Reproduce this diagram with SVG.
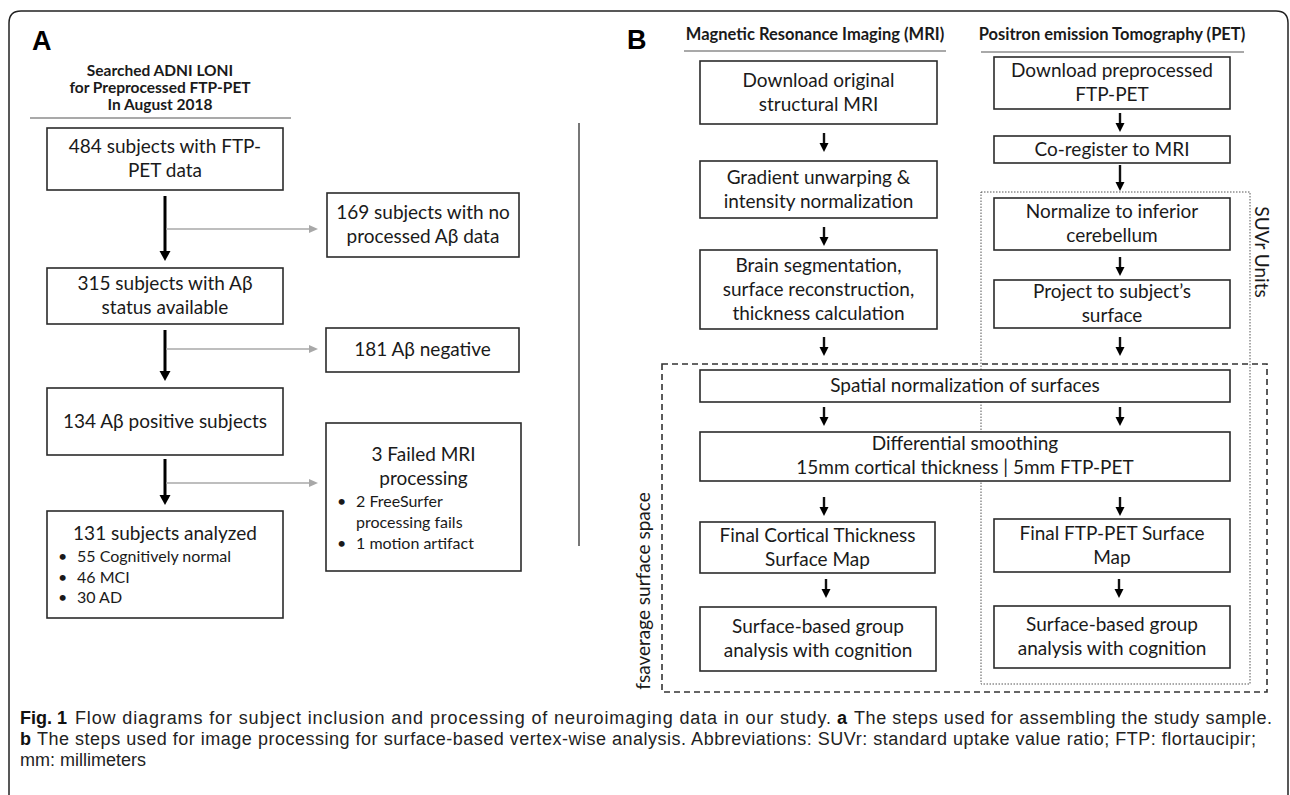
<svg xmlns="http://www.w3.org/2000/svg" width="1290" height="795" viewBox="0 0 1290 795">
<style>
.frame{fill:none;stroke:#222;stroke-width:1.5}
.box{fill:#fff;stroke:#2b2b2b;stroke-width:1.6}
.t{font-family:Lato,'Liberation Sans',sans-serif;font-size:19px;fill:#1a1a1a;text-anchor:middle}
.bl{font-family:Lato,'Liberation Sans',sans-serif;font-size:16px;fill:#1a1a1a}
.h{font-family:Lato,'Liberation Sans',sans-serif;font-weight:bold;font-size:15.5px;fill:#1a1a1a;text-anchor:middle}
.hb{font-family:Lato,'Liberation Sans',sans-serif;font-weight:bold;font-size:16.5px;fill:#1a1a1a;text-anchor:middle}
.lbl{font-family:'Liberation Sans',Arial,sans-serif;font-weight:bold;font-size:27px;fill:#000}
.cap{font-family:'Liberation Sans',Arial,sans-serif;font-size:18px;fill:#222}
.capb{font-family:'Liberation Sans',Arial,sans-serif;font-size:18px;font-weight:bold;fill:#111}
.rule{stroke:#555;stroke-width:1.2}
.ak{stroke:#000;stroke-width:3}
.ag{stroke:#a8a8a8;stroke-width:1.6}
.ab{stroke:#111;stroke-width:2.4}
.hk{fill:#000}
.hg{fill:#a8a8a8}
.dotted{fill:none;stroke:#555;stroke-width:1;stroke-dasharray:1.5 1.5}
.dashed{fill:none;stroke:#333;stroke-width:1.6;stroke-dasharray:6 4}
.side{font-family:Lato,'Liberation Sans',sans-serif;font-size:19px;fill:#1a1a1a;text-anchor:middle}
</style>
<rect width="1290" height="795" fill="#fff"/>
<path class="frame" d="M9,800 V23 Q9,11 21,11 H1276 Q1288,11 1288,23 V800"/>

<!-- Panel A -->
<g id="panel-a-label">
<text class="lbl" x="32" y="50">A</text>
<text class="h" x="160" y="76">Searched ADNI LONI</text>
<text class="h" x="160" y="93">for Preprocessed FTP-PET</text>
<text class="h" x="160" y="110">In August 2018</text>
<line class="rule" x1="30" y1="118" x2="291" y2="118"/>
</g>
<line x1="579" y1="123" x2="579" y2="546" stroke="#777" stroke-width="2"/>

<g id="connectors">
<line class="ak" x1="165" y1="196" x2="165" y2="252"/>
<polygon class="hk" points="159.5,251 170.5,251 165,261"/>
<line class="ag" x1="166" y1="229" x2="310" y2="229"/>
<polygon class="hg" points="309,225 318,229 309,233"/>
<line class="ak" x1="165" y1="330" x2="165" y2="372"/>
<polygon class="hk" points="159.5,371 170.5,371 165,381"/>
<line class="ag" x1="166" y1="349" x2="310" y2="349"/>
<polygon class="hg" points="309,345 318,349 309,353"/>
<line class="ak" x1="165" y1="459" x2="165" y2="496"/>
<polygon class="hk" points="159.5,495 170.5,495 165,505"/>
<line class="ag" x1="166" y1="483" x2="310" y2="483"/>
<polygon class="hg" points="309,479 318,483 309,487"/>

<!-- Panel B MRI column -->
<line class="ab" x1="824" y1="133" x2="824" y2="144"/><polygon class="hk" points="819.5,143 828.5,143 824,152"/>
<line class="ab" x1="824" y1="227" x2="824" y2="238"/><polygon class="hk" points="819.5,237 828.5,237 824,246"/>
<line class="ab" x1="824" y1="337" x2="824" y2="348"/><polygon class="hk" points="819.5,347 828.5,347 824,356"/>
<line class="ab" x1="824" y1="407" x2="824" y2="418"/><polygon class="hk" points="819.5,417 828.5,417 824,426"/>
<line class="ab" x1="824" y1="497" x2="824" y2="508"/><polygon class="hk" points="819.5,507 828.5,507 824,516"/>
<line class="ab" x1="826" y1="579" x2="826" y2="590"/><polygon class="hk" points="821.5,589 830.5,589 826,598"/>
<!-- Panel B PET column -->
<line class="ab" x1="1120" y1="113" x2="1120" y2="124"/><polygon class="hk" points="1115.5,123 1124.5,123 1120,132"/>
<line class="ab" x1="1120" y1="165" x2="1120" y2="183"/><polygon class="hk" points="1115.5,182 1124.5,182 1120,191"/>
<line class="ab" x1="1120" y1="257" x2="1120" y2="268"/><polygon class="hk" points="1115.5,267 1124.5,267 1120,276"/>
<line class="ab" x1="1120" y1="337" x2="1120" y2="348"/><polygon class="hk" points="1115.5,347 1124.5,347 1120,356"/>
<line class="ab" x1="1120" y1="407" x2="1120" y2="418"/><polygon class="hk" points="1115.5,417 1124.5,417 1120,426"/>
<line class="ab" x1="1120" y1="497" x2="1120" y2="508"/><polygon class="hk" points="1115.5,507 1124.5,507 1120,516"/>
<line class="ab" x1="1119" y1="579" x2="1119" y2="590"/><polygon class="hk" points="1114.5,589 1123.5,589 1119,598"/>
</g>

<g id="a-n1"><rect class="box" x="47" y="128" width="236" height="62"/>
<text class="t" x="165" y="153">484 subjects with FTP-</text><text class="t" x="165" y="177">PET data</text></g>
<g id="a-x1"><rect class="box" x="327" y="193" width="192" height="64"/>
<text class="t" x="423" y="219">169 subjects with no</text><text class="t" x="423" y="243">processed Aβ data</text></g>
<g id="a-n2"><rect class="box" x="47" y="268" width="236" height="56"/>
<text class="t" x="165" y="290">315 subjects with Aβ</text><text class="t" x="165" y="314">status available</text></g>
<g id="a-x2"><rect class="box" x="326" y="328" width="193" height="44"/>
<text class="t" x="422.5" y="356">181 Aβ negative</text></g>
<g id="a-n3"><rect class="box" x="47" y="388" width="236" height="67"/>
<text class="t" x="165" y="428">134 Aβ positive subjects</text></g>
<g id="a-x3"><rect class="box" x="326" y="423" width="195" height="148"/>
<text class="t" x="423.5" y="461">3 Failed MRI</text><text class="t" x="423.5" y="485">processing</text>
<text class="bl" x="337" y="507">•</text><text class="bl" x="356" y="507">2 FreeSurfer</text>
<text class="bl" x="356" y="528">processing fails</text>
<text class="bl" x="337" y="549">•</text><text class="bl" x="356" y="549">1 motion artifact</text></g>
<g id="a-n4"><rect class="box" x="47" y="511" width="236" height="107"/>
<text class="t" x="165" y="540">131 subjects analyzed</text>
<text class="bl" x="58" y="562">•</text><text class="bl" x="77" y="562">55 Cognitively normal</text>
<text class="bl" x="58" y="583">•</text><text class="bl" x="77" y="583">46 MCI</text>
<text class="bl" x="58" y="603">•</text><text class="bl" x="77" y="603">30 AD</text></g>

<!-- Panel B -->
<g id="panel-b-label">
<text class="lbl" x="627" y="49">B</text>
<text class="hb" x="815" y="40">Magnetic Resonance Imaging (MRI)</text>
<line class="rule" x1="684" y1="51" x2="946" y2="51"/>
<text class="hb" x="1112" y="40">Positron emission Tomography (PET)</text>
<line class="rule" x1="981" y1="52" x2="1244" y2="52"/>
</g>
<g id="regions">
<rect class="dotted" x="981" y="192" width="269" height="492"/>
<text class="side" transform="translate(1255,252) rotate(90)">SUVr Units</text>
<rect class="dashed" x="662" y="364" width="605" height="328"/>
<text class="side" transform="translate(650,591) rotate(-90)">fsaverage surface space</text>
</g>

<g id="b-m1"><rect class="box" x="700" y="61" width="237" height="63"/>
<text class="t" x="818.5" y="87">Download original</text><text class="t" x="818.5" y="111">structural MRI</text></g>
<g id="b-m2"><rect class="box" x="700" y="161" width="237" height="57"/>
<text class="t" x="818.5" y="184">Gradient unwarping &amp;</text><text class="t" x="818.5" y="208">intensity normalization</text></g>
<g id="b-m3"><rect class="box" x="700" y="250" width="237" height="79"/>
<text class="t" x="818.5" y="272">Brain segmentation,</text><text class="t" x="818.5" y="296">surface reconstruction,</text><text class="t" x="818.5" y="320">thickness calculation</text></g>
<g id="b-p1"><rect class="box" x="994" y="57" width="236" height="52"/>
<text class="t" x="1112" y="77">Download preprocessed</text><text class="t" x="1112" y="101">FTP-PET</text></g>
<g id="b-p2"><rect class="box" x="994" y="136" width="236" height="27"/>
<text class="t" x="1112" y="156">Co-register to MRI</text></g>
<g id="b-p3"><rect class="box" x="994" y="198" width="236" height="52"/>
<text class="t" x="1112" y="218">Normalize to inferior</text><text class="t" x="1112" y="242">cerebellum</text></g>
<g id="b-p4"><rect class="box" x="994" y="280" width="236" height="48"/>
<text class="t" x="1112" y="298">Project to subject’s</text><text class="t" x="1112" y="322">surface</text></g>
<g id="b-s1"><rect class="box" x="700" y="370" width="530" height="32"/>
<text class="t" x="965" y="392">Spatial normalization of surfaces</text></g>
<g id="b-s2"><rect class="box" x="700" y="432" width="530" height="49"/>
<text class="t" x="965" y="450">Differential smoothing</text><text class="t" x="965" y="474">15mm cortical thickness | 5mm FTP-PET</text></g>
<g id="b-m4"><rect class="box" x="700" y="522" width="235" height="51"/>
<text class="t" x="817.5" y="542">Final Cortical Thickness</text><text class="t" x="817.5" y="566">Surface Map</text></g>
<g id="b-p5"><rect class="box" x="994" y="519" width="236" height="53"/>
<text class="t" x="1112" y="540">Final FTP-PET Surface</text><text class="t" x="1112" y="564">Map</text></g>
<g id="b-m5"><rect class="box" x="700" y="607" width="236" height="64"/>
<text class="t" x="818" y="633">Surface-based group</text><text class="t" x="818" y="657">analysis with cognition</text></g>
<g id="b-p6"><rect class="box" x="994" y="606" width="236" height="62"/>
<text class="t" x="1112" y="631">Surface-based group</text><text class="t" x="1112" y="655">analysis with cognition</text></g>

<g id="caption">
<text class="capb" x="20" y="724">Fig. 1</text>
<text class="cap" x="75" y="724" textLength="756" lengthAdjust="spacing">Flow diagrams for subject inclusion and processing of neuroimaging data in our study.</text>
<text class="capb" x="837" y="724">a</text>
<text class="cap" x="854" y="724" textLength="418" lengthAdjust="spacing">The steps used for assembling the study sample.</text>
<text class="capb" x="20" y="745">b</text>
<text class="cap" x="37" y="745" textLength="1219" lengthAdjust="spacing">The steps used for image processing for surface-based vertex-wise analysis. Abbreviations: SUVr: standard uptake value ratio; FTP: flortaucipir;</text>
<text class="cap" x="20" y="766">mm: millimeters</text>
</g>
</svg>
